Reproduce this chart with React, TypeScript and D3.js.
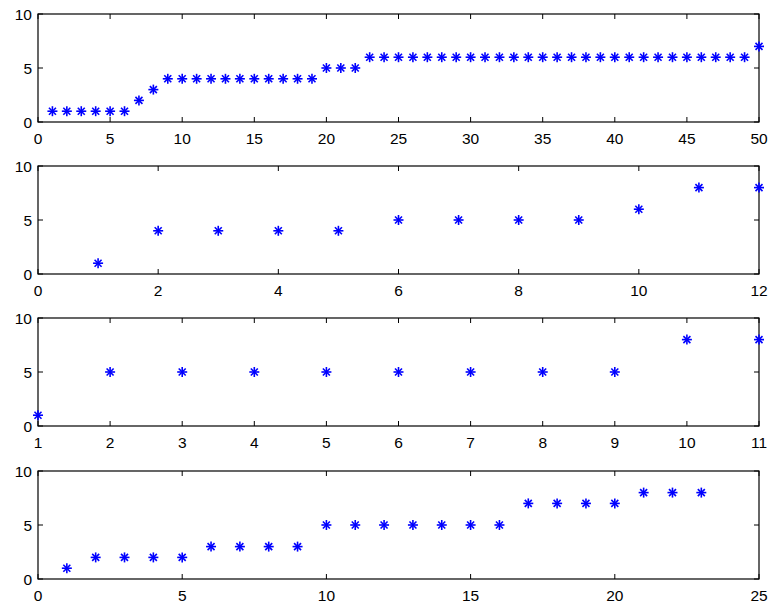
import React from 'react';
import * as d3 from 'd3';

const width = 770;
const height = 611;
const left = 38;
const right = 759;

const y1 = [1, 1, 1, 1, 1, 1, 2, 3, 4, 4, 4, 4, 4, 4, 4, 4, 4, 4, 4, 5, 5, 5,
  6, 6, 6, 6, 6, 6, 6, 6, 6, 6, 6, 6, 6, 6, 6, 6, 6, 6, 6, 6, 6, 6, 6, 6, 6, 6, 6, 7];
const y2 = [1, 4, 4, 4, 4, 5, 5, 5, 5, 6, 8, 8];
const y3 = [1, 5, 5, 5, 5, 5, 5, 5, 5, 8, 8];
const y4 = [1, 2, 2, 2, 2, 3, 3, 3, 3, 5, 5, 5, 5, 5, 5, 5, 7, 7, 7, 7, 8, 8, 8];

const panels = [
  { values: y1, xDomain: [0, 50], xTicks: [0, 5, 10, 15, 20, 25, 30, 35, 40, 45, 50], top: 14, bottom: 122 },
  { values: y2, xDomain: [0, 12], xTicks: [0, 2, 4, 6, 8, 10, 12], top: 166, bottom: 274 },
  { values: y3, xDomain: [1, 11], xTicks: [1, 2, 3, 4, 5, 6, 7, 8, 9, 10, 11], top: 318, bottom: 426 },
  { values: y4, xDomain: [0, 25], xTicks: [0, 5, 10, 15, 20, 25], top: 471, bottom: 579 },
];
const yTicks = [0, 5, 10];

const Star = ({ x, y }: { x: number; y: number }) => {
  const r = 5;
  const d = r * 0.7;
  return (
    <g stroke="#0000ff" strokeWidth={1.6}>
      <line x1={x - r} y1={y} x2={x + r} y2={y} />
      <line x1={x} y1={y - r} x2={x} y2={y + r} />
      <line x1={x - d} y1={y - d} x2={x + d} y2={y + d} />
      <line x1={x - d} y1={y + d} x2={x + d} y2={y - d} />
    </g>
  );
};

const App = () => (
  <svg width={width} height={height} style={{ position: 'absolute', left: 0, top: 0 }}
    fontFamily="Liberation Sans, Arial, sans-serif" fontSize={15.5}>
    <rect width={width} height={height} fill="#fff" />
    {panels.map((p, i) => {
      const x = d3.scaleLinear().domain(p.xDomain).range([left, right]);
      const y = d3.scaleLinear().domain([0, 10]).range([p.bottom, p.top]);
      return (
        <g key={i}>
          {p.xTicks.map(t => (
            <g key={'x' + t}>
              <line x1={x(t)} x2={x(t)} y1={p.bottom} y2={p.bottom - 5} stroke="#000" />
              <line x1={x(t)} x2={x(t)} y1={p.top} y2={p.top + 5} stroke="#000" />
              <text x={x(t)} y={p.bottom + 22} textAnchor="middle">{t}</text>
            </g>
          ))}
          {yTicks.map(t => (
            <g key={'y' + t}>
              <line x1={left} x2={left + 5} y1={y(t)} y2={y(t)} stroke="#000" />
              <line x1={right} x2={right - 5} y1={y(t)} y2={y(t)} stroke="#000" />
              <text x={left - 6} y={y(t) + 5.5} textAnchor="end">{t}</text>
            </g>
          ))}
          <rect x={left} y={p.top} width={right - left} height={p.bottom - p.top}
            fill="none" stroke="#000" strokeWidth={1.2} />
          {p.values.map((v, j) => <Star key={j} x={x(j + 1)} y={y(v)} />)}
        </g>
      );
    })}
  </svg>
);

export default App;
